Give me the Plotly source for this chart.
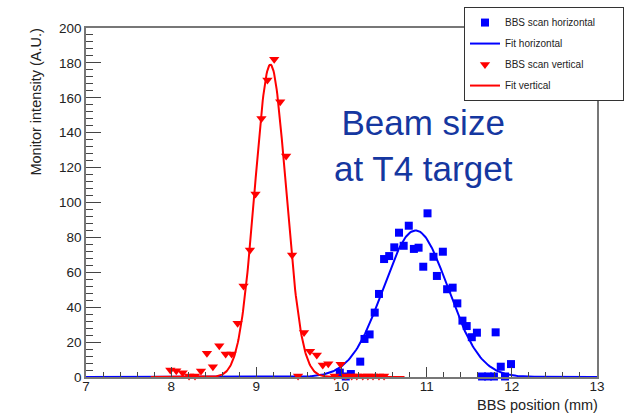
import numpy as np
import plotly.graph_objects as go

# Beam-size scan measurements (BBS position in mm, monitor intensity in A.U.)
h_pos = [9.98, 10.05, 10.11, 10.22, 10.27, 10.33, 10.39, 10.44, 10.50, 10.56,
         10.62, 10.675, 10.73, 10.79, 10.85, 10.905, 10.96, 11.01, 11.08, 11.12,
         11.19, 11.24, 11.305, 11.36, 11.42, 11.47, 11.53, 11.59, 11.65, 11.72,
         11.79, 11.81, 11.87, 11.92, 11.99]
h_int = [2.5, 0.3, 1.7, 8.8, 21.8, 24.4, 36.9, 47.6, 67.6, 69.3,
         74.3, 82.7, 75.2, 86.7, 73.4, 74.1, 63.2, 93.8, 68.9, 57.9,
         71.8, 50.3, 51.2, 42.2, 32.3, 29.2, 22.8, 25.4, 0.3, 0.3,
         0.3, 25.6, 5.9, 0.3, 7.4]

v_pos = [7.99, 8.06, 8.135, 8.21, 8.28, 8.35, 8.42, 8.49, 8.565, 8.64,
         8.71, 8.78, 8.85, 8.925, 8.99, 9.06, 9.13, 9.21, 9.28, 9.35,
         9.42, 9.49, 9.56, 9.63, 9.71, 9.78, 9.845, 9.92, 9.99, 10.05,
         10.12, 10.18, 10.25, 10.31, 10.37, 10.44, 10.50]
v_int = [4.0, 3.6, 2.5, 0.6, 0.6, 3.4, 13.6, 5.9, 17.9, 13.2,
         13.2, 30.8, 52.1, 72.8, 104.9, 148.2, 170.2, 182.1, 157.8, 126.6,
         69.9, 0.6, 25.5, 14.8, 12.6, 6.9, 7.6, 0.6, 7.3, 0.6,
         0.6, 0.6, 0.6, 0.6, 0.6, 0.6, 0.6]

# Gaussian fit parameters: amplitude, mean, sigma, drawn range
fit_h = dict(amp=84.0, mean=10.87, sigma=0.38, lo=7.0, hi=13.0)
fit_v = dict(amp=179.0, mean=9.165, sigma=0.182, lo=7.76, hi=10.74)

x_ticks = [7, 8, 9, 10, 11, 12, 13]
y_ticks = [0, 20, 40, 60, 80, 100, 120, 140, 160, 180, 200]


def gauss_curve(p, n=400):
    x = np.linspace(p["lo"], p["hi"], n)
    y = p["amp"] * np.exp(-0.5 * ((x - p["mean"]) / p["sigma"]) ** 2)
    return x, y


FONT = "Liberation Sans, Arial, sans-serif"
BLUE = "#0000ff"
RED = "#ff0000"
PAD = "\u00a0" * 8  # trailing room so the legend box is wider

fig = go.Figure()

xh, yh = gauss_curve(fit_h)
xv, yv = gauss_curve(fit_v)

fig.add_trace(go.Scatter(
    x=h_pos, y=h_int, mode="markers", name="BBS scan horizontal" + PAD,
    legendgroup="a",
    marker=dict(symbol="square", size=8, color=BLUE), cliponaxis=False))
fig.add_trace(go.Scatter(
    x=xh, y=yh, mode="lines", name="Fit horizontal", legendgroup="b",
    line=dict(color=BLUE, width=2)))
fig.add_trace(go.Scatter(
    x=v_pos, y=v_int, mode="markers", name="BBS scan vertical",
    legendgroup="c",
    marker=dict(symbol="triangle-down", size=9, color=RED), cliponaxis=False))
fig.add_trace(go.Scatter(
    x=xv, y=yv, mode="lines", name="Fit vertical", legendgroup="d",
    line=dict(color=RED, width=2)))

axis_common = dict(
    showline=True, linecolor="#777777", linewidth=1.5, mirror=True,
    showgrid=False, zeroline=False, ticks="inside", tickcolor="#444444",
    tickfont=dict(family=FONT, size=13.5, color="#222222"),
)

fig.update_xaxes(
    range=[7, 13], tickvals=x_ticks, ticktext=[str(v) for v in x_ticks],
    ticklen=10, tickwidth=1, ticklabelstandoff=-4,
    minor=dict(dtick=0.2, ticks="inside", ticklen=5, tickcolor="#444444"),
    **axis_common)
fig.update_yaxes(
    range=[0, 200], tickvals=y_ticks, ticktext=[str(v) for v in y_ticks],
    ticklen=15, tickwidth=1,
    minor=dict(dtick=4, ticks="inside", ticklen=7, tickcolor="#444444"),
    **axis_common)

fig.add_annotation(
    text="Monitor intensity (A.U.)", textangle=-90, showarrow=False,
    xref="paper", yref="paper", x=-0.098, y=0.789,
    xanchor="center", yanchor="middle",
    font=dict(family=FONT, size=14.5, color="#222222"))
fig.add_annotation(
    text="BBS position (mm)", showarrow=False,
    xref="paper", yref="paper", x=0.8826, y=-0.0788,
    xanchor="center", yanchor="middle",
    font=dict(family=FONT, size=14.5, color="#222222"))
fig.add_annotation(
    text="Beam size<br>at T4 target", showarrow=False,
    xref="paper", yref="paper", x=0.661, y=0.662,
    xanchor="center", yanchor="middle", align="center",
    font=dict(family=FONT, size=35, color="#1537a0"))

fig.update_layout(
    width=627, height=419,
    margin=dict(l=86, r=30, t=28, b=42, autoexpand=False),
    paper_bgcolor="white", plot_bgcolor="white",
    showlegend=True,
    legend=dict(
        x=0.7397, y=1.06, xanchor="left", yanchor="top",
        bgcolor="white", bordercolor="#333333", borderwidth=1,
        font=dict(family=FONT, size=10, color="#222222"),
        traceorder="grouped", tracegroupgap=2,
    ),
)

fig.write_html("out.html")
